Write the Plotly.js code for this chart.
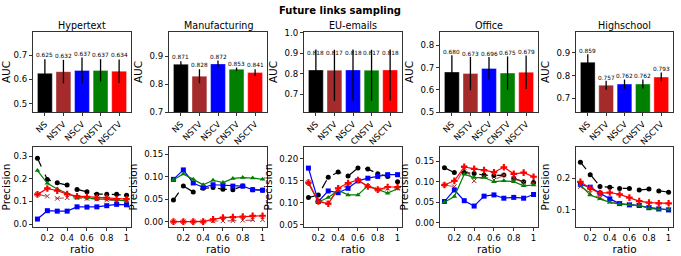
<!DOCTYPE html>
<html>
<head>
<meta charset="utf-8">
<script src="https://cdn.plot.ly/plotly-3.0.1.min.js"></script>
<style>html,body{margin:0;padding:0;background:#fff}#chart{width:681px;height:256px}</style>
</head>
<body>
<div id="chart"></div>
<script>
// ---------- DATA ----------
const datasets = ["Hypertext", "Manufacturing", "EU-emails", "Office", "Highschool"];
const methods = ["NS", "NSTV", "NSCV", "CNSTV", "NSCTV"];
const ratios = [0.1, 0.2, 0.3, 0.4, 0.5, 0.6, 0.7, 0.8, 0.9, 1.0];
const ratioTickVals = [0.2, 0.4, 0.6, 0.8, 1.0];
const ratioTickText = ["0.2", "0.4", "0.6", "0.8", "1"];

// AUC (bar heights) per dataset, in method order
const aucHypertext     = [0.625, 0.632, 0.637, 0.637, 0.634];
const aucManufacturing = [0.871, 0.828, 0.872, 0.853, 0.841];
const aucEUemails      = [0.818, 0.817, 0.818, 0.817, 0.818];
const aucOffice        = [0.680, 0.673, 0.696, 0.675, 0.679];
const aucHighschool    = [0.859, 0.757, 0.762, 0.762, 0.793];

// AUC error bars (up / down)
const errUpHypertext       = [0.058, 0.048, 0.053, 0.046, 0.048];
const errDownHypertext     = [0.058, 0.048, 0.053, 0.046, 0.048];
const errUpManufacturing   = [0.010, 0.025, 0.012, 0.006, 0.012];
const errDownManufacturing = [0.010, 0.025, 0.012, 0.006, 0.012];
const errUpEUemails        = [0.100, 0.100, 0.100, 0.100, 0.100];
const errDownEUemails      = [0.150, 0.150, 0.150, 0.150, 0.150];
const errUpOffice          = [0.075, 0.075, 0.052, 0.075, 0.075];
const errDownOffice        = [0.075, 0.075, 0.052, 0.075, 0.075];
const errUpHighschool      = [0.035, 0.020, 0.020, 0.020, 0.020];
const errDownHighschool    = [0.035, 0.020, 0.020, 0.020, 0.020];

// Precision vs ratio
const precHypertextNS    = [0.290, 0.197, 0.182, 0.172, 0.153, 0.143, 0.132, 0.132, 0.131, 0.127];
const precHypertextNSTV  = [0.131, 0.123, 0.113, 0.116, 0.116, 0.113, 0.110, 0.106, 0.103, 0.100];
const precHypertextNSCV  = [0.022, 0.059, 0.057, 0.057, 0.076, 0.075, 0.076, 0.081, 0.087, 0.085];
const precHypertextCNSTV = [0.236, 0.180, 0.155, 0.135, 0.116, 0.116, 0.110, 0.110, 0.106, 0.102];
const precHypertextNSCTV = [0.131, 0.157, 0.147, 0.132, 0.123, 0.120, 0.116, 0.116, 0.110, 0.110];

const precManufacturingNS    = [0.048, 0.079, 0.066, 0.074, 0.076, 0.072, 0.071, 0.079, 0.071, 0.070];
const precManufacturingNSTV  = [0.000, 0.000, 0.000, 0.000, 0.0015, 0.0015, 0.002, 0.003, 0.004, 0.004];
const precManufacturingNSCV  = [0.094, 0.115, 0.086, 0.076, 0.082, 0.081, 0.079, 0.079, 0.071, 0.070];
const precManufacturingCNSTV = [0.093, 0.106, 0.094, 0.082, 0.092, 0.087, 0.096, 0.098, 0.097, 0.094];
const precManufacturingNSCTV = [0.000, 0.000, 0.000, 0.000, 0.005, 0.009, 0.010, 0.011, 0.013, 0.013];

const precEUemailsNS    = [0.112, 0.118, 0.158, 0.170, 0.161, 0.179, 0.177, 0.166, 0.160, 0.148];
const precEUemailsNSTV  = [0.146, 0.103, 0.100, 0.130, 0.140, 0.150, 0.138, 0.130, 0.133, 0.133];
const precEUemailsNSCV  = [0.179, 0.103, 0.127, 0.123, 0.133, 0.150, 0.156, 0.160, 0.164, 0.164];
const precEUemailsCNSTV = [0.145, 0.102, 0.112, 0.128, 0.118, 0.118, 0.139, 0.130, 0.122, 0.132];
const precEUemailsNSCTV = [0.146, 0.103, 0.098, 0.133, 0.145, 0.152, 0.137, 0.130, 0.136, 0.136];

const precOfficeNS    = [0.134, 0.122, 0.122, 0.120, 0.116, 0.115, 0.116, 0.108, 0.100, 0.098];
const precOfficeNSTV  = [0.092, 0.088, 0.134, 0.102, 0.112, 0.104, 0.116, 0.108, 0.098, 0.096];
const precOfficeNSCV  = [0.052, 0.080, 0.054, 0.041, 0.065, 0.068, 0.060, 0.062, 0.060, 0.069];
const precOfficeCNSTV = [0.050, 0.064, 0.118, 0.110, 0.110, 0.100, 0.102, 0.100, 0.090, 0.092];
const precOfficeNSCTV = [0.092, 0.102, 0.136, 0.131, 0.128, 0.123, 0.135, 0.119, 0.122, 0.112];

const precHighschoolNS    = [0.251, 0.211, 0.174, 0.172, 0.168, 0.168, 0.163, 0.166, 0.160, 0.156];
const precHighschoolNSTV  = [0.174, 0.153, 0.137, 0.126, 0.119, 0.116, 0.113, 0.107, 0.103, 0.100];
const precHighschoolNSCV  = [0.181, 0.172, 0.153, 0.135, 0.120, 0.116, 0.114, 0.107, 0.103, 0.100];
const precHighschoolCNSTV = [0.179, 0.147, 0.135, 0.124, 0.118, 0.116, 0.114, 0.105, 0.102, 0.102];
const precHighschoolNSCTV = [0.189, 0.168, 0.153, 0.155, 0.149, 0.139, 0.128, 0.123, 0.121, 0.121];

// ---------- STYLE / LAYOUT ----------
const W = 681, H = 256;
const colors = ["#000000", "#a52a2a", "#0000ff", "#008000", "#ff0000"];
const dashes = ["dash", "dash", "solid", "solid", "solid"];
const symbols = ["circle", "x-thin-open", "square", "triangle-up", "cross"];
const panelX = [[33, 131], [169, 267], [304, 402], [440, 538], [576, 673]];
const topY = [32, 112], botY = [147, 227];

const aucAll = [aucHypertext, aucManufacturing, aucEUemails, aucOffice, aucHighschool];
const errUpAll = [errUpHypertext, errUpManufacturing, errUpEUemails, errUpOffice, errUpHighschool];
const errDownAll = [errDownHypertext, errDownManufacturing, errDownEUemails, errDownOffice, errDownHighschool];
const precAll = [
  [precHypertextNS, precHypertextNSTV, precHypertextNSCV, precHypertextCNSTV, precHypertextNSCTV],
  [precManufacturingNS, precManufacturingNSTV, precManufacturingNSCV, precManufacturingCNSTV, precManufacturingNSCTV],
  [precEUemailsNS, precEUemailsNSTV, precEUemailsNSCV, precEUemailsCNSTV, precEUemailsNSCTV],
  [precOfficeNS, precOfficeNSTV, precOfficeNSCV, precOfficeCNSTV, precOfficeNSCTV],
  [precHighschoolNS, precHighschoolNSTV, precHighschoolNSCV, precHighschoolCNSTV, precHighschoolNSCTV]
];
const topRanges = [[0.467, 0.794], [0.70, 0.986], [0.612, 1.004], [0.50, 0.86], [0.638, 0.993]];
const topDtick = [0.1, 0.1, 0.1, 0.1, 0.1];
const topFmt = [".1f", ".1f", ".1f", ".1f", ".1f"];
const labelPad = [0.016, 0.014, -0.018, 0.014, 0.014];
const botRanges = [[-0.013, 0.34], [-0.012, 0.166], [0.045, 0.227], [-0.0097, 0.184], [0.046, 0.299]];
const botDtick = [0.1, 0.05, 0.05, 0.05, 0.1];
const botFmt = [".1f", ".2f", ".2f", ".2f", ".1f"];

const FF = "DejaVu Sans, sans-serif";
const TICK = 8.6, AXT = 10.5, PT = 9.6;
const traces = [];
const layout = {
  width: W, height: H,
  margin: {l: 0, r: 0, t: 0, b: 0},
  paper_bgcolor: "#fff", plot_bgcolor: "#fff",
  showlegend: false,
  bargap: 0.2,
  font: {family: FF, color: "#000"},
  annotations: [{
    text: "<b>Future links sampling</b>", x: 340 / W, y: 1 - 10 / H,
    xref: "paper", yref: "paper", showarrow: false, xanchor: "center", yanchor: "middle",
    font: {family: FF, size: 10, color: "#000"}
  }]
};

function axisBase() {
  return {
    showline: true, mirror: true, linecolor: "#333", linewidth: 1,
    ticks: "outside", ticklen: 3, tickwidth: 1, tickcolor: "#333",
    showgrid: false, zeroline: false,
    tickfont: {family: FF, size: TICK, color: "#000"}
  };
}

for (let p = 0; p < 5; p++) {
  const xi = p + 1, bi = p + 6;
  const xd = [panelX[p][0] / W, panelX[p][1] / W];
  // top bar axes
  const xa = axisBase();
  Object.assign(xa, {domain: xd, anchor: "y" + xi, type: "category", range: [-0.64, 4.64],
    tickangle: -45, tickfont: {family: FF, size: 8.5, color: "#000"}});
  const ya = axisBase();
  Object.assign(ya, {domain: [1 - topY[1] / H, 1 - topY[0] / H], anchor: "x" + xi,
    range: topRanges[p], dtick: topDtick[p], tick0: 0, tickformat: topFmt[p],
    title: {text: "AUC", font: {family: FF, size: AXT, color: "#000"}, standoff: 4}});
  layout["xaxis" + xi] = xa;
  layout["yaxis" + xi] = ya;

  traces.push({
    type: "bar", x: methods, y: aucAll[p], xaxis: "x" + xi, yaxis: "y" + xi,
    marker: {color: colors, line: {color: "rgba(255,255,255,0.6)", width: 0.6}},
    error_y: {type: "data", symmetric: false, array: errUpAll[p], arrayminus: errDownAll[p],
      color: "#000", thickness: 1.3, width: 0},
    hoverinfo: "skip"
  });
  for (let m = 0; m < 5; m++) {
    layout.annotations.push({
      text: aucAll[p][m].toFixed(3), x: methods[m], y: aucAll[p][m] + errUpAll[p][m] + labelPad[p],
      xref: "x" + xi, yref: "y" + xi, showarrow: false, xanchor: "center", yanchor: "middle",
      font: {family: FF, size: 5.8, color: "#000"}
    });
  }
  layout.annotations.push({
    text: datasets[p], x: (xd[0] + xd[1]) / 2, y: 1 - 25 / H,
    xref: "paper", yref: "paper", showarrow: false, xanchor: "center", yanchor: "middle",
    font: {family: FF, size: PT, color: "#000"}
  });

  // bottom line axes
  const xb = axisBase();
  Object.assign(xb, {domain: xd, anchor: "y" + bi, range: [0.055, 1.045],
    tickvals: ratioTickVals, ticktext: ratioTickText,
    title: {text: "ratio", font: {family: FF, size: AXT, color: "#000"}, standoff: 1}});
  const yb = axisBase();
  Object.assign(yb, {domain: [1 - botY[1] / H, 1 - botY[0] / H], anchor: "x" + bi,
    range: botRanges[p], dtick: botDtick[p], tick0: 0, tickformat: botFmt[p],
    title: {text: "Precision", font: {family: FF, size: AXT, color: "#000"}, standoff: 4}});
  layout["xaxis" + bi] = xb;
  layout["yaxis" + bi] = yb;

  for (let m = 0; m < 5; m++) {
    const isX = symbols[m].startsWith("x");
    traces.push({
      type: "scatter", mode: "lines+markers", x: ratios, y: precAll[p][m],
      xaxis: "x" + bi, yaxis: "y" + bi, name: methods[m],
      line: {color: m === 1 ? "rgba(165,42,42,0.75)" : colors[m], width: 1.2, dash: dashes[m]},
      marker: {symbol: symbols[m], size: isX ? 4.5 : (m === 4 ? 5.5 : 5), color: colors[m],
        line: {color: colors[m], width: isX ? 1 : 0}},
      hoverinfo: "skip"
    });
  }
}

Plotly.newPlot("chart", traces, layout, {staticPlot: true, displayModeBar: false});
</script>
</body>
</html>
